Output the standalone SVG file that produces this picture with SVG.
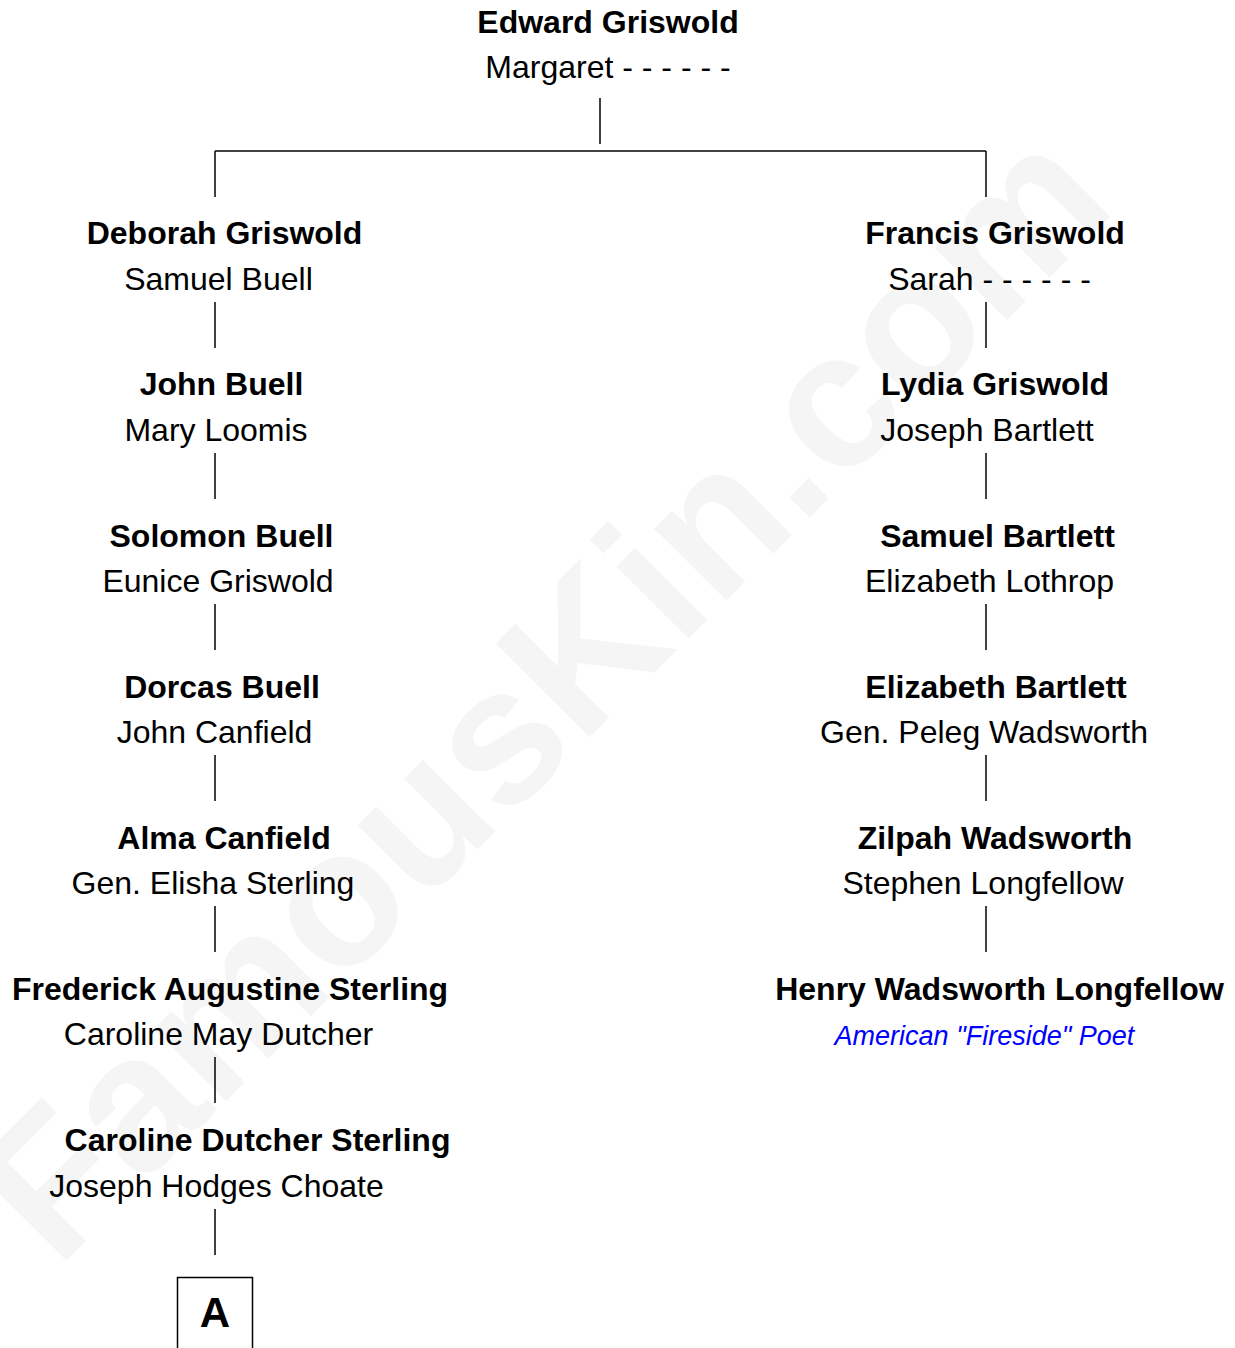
<svg xmlns="http://www.w3.org/2000/svg" width="1235" height="1348" viewBox="0 0 1235 1348">
<style>
.b{font-family:"Liberation Sans",Arial,sans-serif;font-weight:bold;font-size:32px;fill:#000;text-anchor:middle}
.r{font-family:"Liberation Sans",Arial,sans-serif;font-size:32px;fill:#000;text-anchor:middle}
.p{font-family:"Liberation Sans",Arial,sans-serif;font-style:italic;font-size:27px;fill:#0000ff;text-anchor:middle}
.wm{font-family:"Liberation Sans",Arial,sans-serif;font-weight:bold;font-size:193px;fill:#f5f5f5;text-anchor:middle}
.c line,.c rect{stroke:#000;stroke-width:1.5;fill:none}
</style>
<rect width="1235" height="1348" fill="#fff"/>
<text class="wm" x="588" y="739" transform="rotate(-45 588 739)">FamousKin.com</text>
<g class="c" id="connectors">
<line x1="600" y1="98" x2="600" y2="144"/>
<line x1="215" y1="151" x2="986" y2="151"/>
<line x1="215" y1="151" x2="215" y2="197"/>
<line x1="986" y1="151" x2="986" y2="197"/>
<line x1="215" y1="302" x2="215" y2="348"/>
<line x1="215" y1="453" x2="215" y2="499"/>
<line x1="215" y1="604" x2="215" y2="650"/>
<line x1="215" y1="755" x2="215" y2="801"/>
<line x1="215" y1="906" x2="215" y2="952"/>
<line x1="215" y1="1057" x2="215" y2="1103"/>
<line x1="215" y1="1209" x2="215" y2="1255"/>
<line x1="986" y1="302" x2="986" y2="348"/>
<line x1="986" y1="453" x2="986" y2="499"/>
<line x1="986" y1="604" x2="986" y2="650"/>
<line x1="986" y1="755" x2="986" y2="801"/>
<line x1="986" y1="906" x2="986" y2="952"/>
</g>
<g id="n-edward"><text class="b" x="608" y="33">Edward Griswold</text><text class="r" x="608" y="78">Margaret - - - - - -</text></g>
<g id="n-deborah"><text class="b" x="224.5" y="244">Deborah Griswold</text><text class="r" x="218.5" y="290">Samuel Buell</text></g>
<g id="n-john"><text class="b" x="221.5" y="395">John Buell</text><text class="r" x="216" y="441">Mary Loomis</text></g>
<g id="n-solomon"><text class="b" x="221.5" y="547">Solomon Buell</text><text class="r" x="218" y="592">Eunice Griswold</text></g>
<g id="n-dorcas"><text class="b" x="222" y="698">Dorcas Buell</text><text class="r" x="214.5" y="743">John Canfield</text></g>
<g id="n-alma"><text class="b" x="224" y="849">Alma Canfield</text><text class="r" x="213" y="894">Gen. Elisha Sterling</text></g>
<g id="n-frederick"><text class="b" x="230" y="1000">Frederick Augustine Sterling</text><text class="r" x="218.5" y="1045">Caroline May Dutcher</text></g>
<g id="n-caroline"><text class="b" x="257.5" y="1151">Caroline Dutcher Sterling</text><text class="r" x="216.5" y="1197">Joseph Hodges Choate</text></g>
<g id="n-a" class="c"><rect x="177.5" y="1277.5" width="75" height="80"/><text x="215" y="1327" style="font-family:'Liberation Sans',Arial,sans-serif;font-weight:bold;font-size:42px;text-anchor:middle;fill:#000;stroke:none">A</text></g>
<g id="n-francis"><text class="b" x="995" y="244">Francis Griswold</text><text class="r" x="989.5" y="290">Sarah - - - - - -</text></g>
<g id="n-lydia"><text class="b" x="995" y="395">Lydia Griswold</text><text class="r" x="987" y="441">Joseph Bartlett</text></g>
<g id="n-samuel"><text class="b" x="997.5" y="547">Samuel Bartlett</text><text class="r" x="989.5" y="592">Elizabeth Lothrop</text></g>
<g id="n-elizabeth"><text class="b" x="996" y="698">Elizabeth Bartlett</text><text class="r" x="984" y="743">Gen. Peleg Wadsworth</text></g>
<g id="n-zilpah"><text class="b" x="995" y="849">Zilpah Wadsworth</text><text class="r" x="983" y="894">Stephen Longfellow</text></g>
<g id="n-henry"><text class="b" x="999.5" y="1000">Henry Wadsworth Longfellow</text><text class="p" x="984.5" y="1045">American "Fireside" Poet</text></g>
</svg>
